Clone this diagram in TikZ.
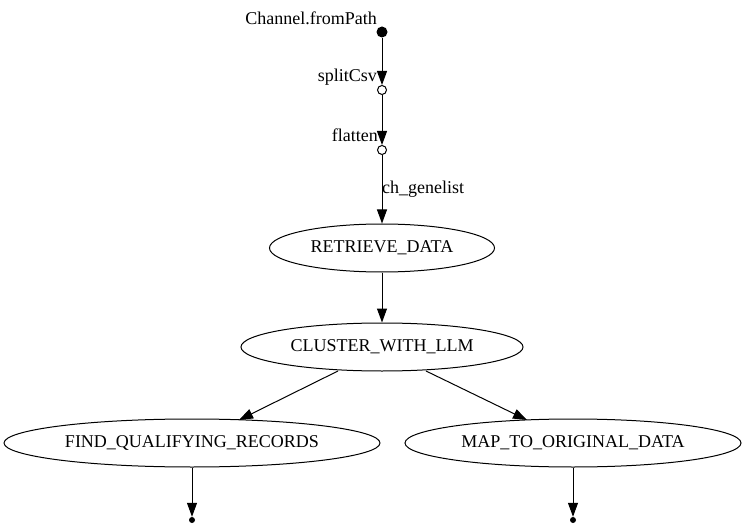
\documentclass[tikz,border=0pt]{standalone}
\usepackage{fontspec}
\setmainfont{Liberation Serif}
\usetikzlibrary{shapes.geometric,arrows.meta}
\begin{document}
\begin{tikzpicture}[x=1bp,y=-1bp,
  proc/.style={draw,ellipse,inner sep=0pt,line width=1bp,minimum height=48bp,font=\fontsize{18bp}{20bp}\selectfont},
  edge/.style={draw,line width=1bp,-{Triangle[length=14bp,width=10bp]}},
  lbl/.style={font=\fontsize{18bp}{20bp}\selectfont,inner sep=0pt},
  opdot/.style={circle,draw,line width=1bp,minimum size=9bp,inner sep=0pt,fill=white},
  src/.style={circle,fill=black,minimum size=11bp,inner sep=0pt},
  sink/.style={circle,fill=black,minimum size=6bp,inner sep=0pt}]
\useasboundingbox (0,0) rectangle (747,527);
\node[src] (start) at (382,32) {};
\node[lbl,anchor=east] (startlbl) at (377,18) {Channel.fromPath};
\node[opdot] (split) at (382,90) {};
\node[lbl,anchor=east] (splitlbl) at (377,77) {splitCsv};
\node[opdot] (flat) at (382,150) {};
\node[lbl,anchor=east] (flatlbl) at (378,135) {flatten};
\node[proc,minimum width=225bp] (ret) at (382,248) {RETRIEVE\_DATA};
\node[proc,minimum width=282bp] (clu) at (382,347) {CLUSTER\_WITH\_LLM};
\node[proc,minimum width=376bp] (find) at (192,443) {FIND\_QUALIFYING\_RECORDS};
\node[proc,minimum width=336bp] (map) at (573,443) {MAP\_TO\_ORIGINAL\_DATA};
\node[sink] (e1) at (192,520) {};
\node[sink] (e2) at (573,520) {};
\coordinate (c1) at (338,371);
\coordinate (c2) at (426,371);
\coordinate (f1) at (239,420);
\coordinate (m1) at (527,420);
\draw[edge] (start) -- (split);
\draw[edge] (split) -- (flat);
\draw[edge] (flat) -- (ret);
\node[lbl,anchor=west] (chlbl) at (382,189) {ch\_genelist};
\draw[edge] (ret) -- (clu);
\draw[edge] (c1) -- (f1);
\draw[edge] (c2) -- (m1);
\draw[edge] (find) -- (e1);
\draw[edge] (map) -- (e2);
\end{tikzpicture}
\end{document}
